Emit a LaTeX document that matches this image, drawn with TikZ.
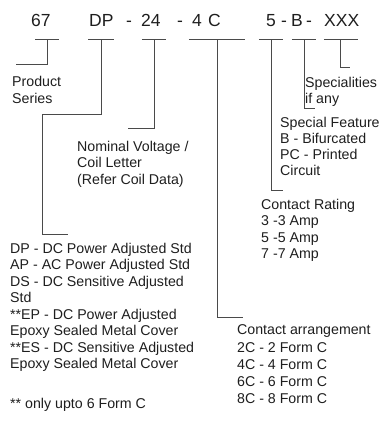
\documentclass[tikz,border=0pt]{standalone}
\usepackage{fontspec}
\setmainfont{Liberation Sans}
\usetikzlibrary{positioning}
\definecolor{ink}{HTML}{1E1E1E}
\definecolor{linegray}{HTML}{4A4A4A}
\tikzset{code/.style={anchor=base west, inner sep=0pt, font=\fontsize{17.5}{20}\selectfont, text=ink}, lab/.style={anchor=base west, inner sep=0pt, align=left, font=\fontsize{14.2}{16.5}\selectfont, text=ink}, uline/.style={inner sep=0pt, minimum height=0pt}, lead/.style={draw=linegray, line width=0.8pt}}

\begin{document}
\begin{tikzpicture}[x=1pt,y=-1pt]
\useasboundingbox (0,0) rectangle (385,423);
% part number
\node[code] (n67) at (31,27) {67}; \node[code] (nDP) at (89,27) {DP}; \node[code] (d1) at (126,27) {-};
\node[code] (n24) at (141,27) {24}; \node[code] (d2) at (177,27) {-}; \node[code] (n4) at (192,27) {4}; \node[code] (nC) at (208,27) {C};
\node[code] (n5) at (266,27) {5}; \node[code] (d3) at (281,27) {-}; \node[code] (nB) at (291,27) {B}; \node[code] (d4) at (306,27) {-}; \node[code] (nX) at (324,27) {XXX};
% underlines
\node[uline, minimum width=23pt] (u67) at (47,39) {}; \node[uline, minimum width=25pt] (uDP) at (101,39) {};
\node[uline, minimum width=24pt] (u24) at (154,39) {}; \node[uline, minimum width=56pt] (u4C) at (217,39) {};
\node[uline, minimum width=24pt] (u5) at (271,39) {}; \node[uline, minimum width=24pt] (uB) at (304,39) {}; \node[uline, minimum width=34pt] (uX) at (341,39) {};
% labels (base = last line)
\node[lab] (series) at (12,103) {Product\\Series};
\node[lab] (voltage) at (77,184) {Nominal Voltage /\\Coil Letter\\(Refer Coil Data)};
\node[lab] (types) at (10,368.5) {DP - DC Power Adjusted Std\\AP - AC Power Adjusted Std\\DS - DC Sensitive Adjusted\\Std\\**EP - DC Power Adjusted\\Epoxy Sealed Metal Cover\\**ES - DC Sensitive Adjusted\\Epoxy Sealed Metal Cover};
\node[lab] (note) at (10,408) {** only upto 6 Form C};
\node[lab, font=\fontsize{14.2}{16.8}\selectfont] (arrange) at (237,403) {Contact arrangement\\[1.5pt]2C - 2 Form C\\4C - 4 Form C\\6C - 6 Form C\\8C - 8 Form C};
\node[lab] (rating) at (261,258.5) {Contact Rating\\3 -3 Amp\\5 -5 Amp\\7 -7 Amp};
\node[lab, font=\fontsize{14.2}{16}\selectfont] (feature) at (280,175) {Special Feature\\B - Bifurcated\\PC - Printed\\Circuit};
\node[lab, font=\fontsize{14.2}{16}\selectfont] (special) at (305,103) {Specialities\\if any};
% leads
\coordinate (e67) at (16,64); \coordinate (kDP) at (42,114); \coordinate (eDP) at (68,234); \coordinate (e24) at (128,128);
\coordinate (e4C) at (243,317); \coordinate (e5) at (283,190); \coordinate (eB) at (315,108); \coordinate (eX) at (350,67);
\foreach \u in {u67,uDP,u24,u4C,u5,uB,uX} \draw[lead] (\u.west) -- (\u.east);
\draw[lead] (u67.center) |- (e67); \draw[lead] (uDP.center) |- (kDP) |- (eDP); \draw[lead] (u24.center) |- (e24);
\draw[lead] (u4C.center) |- (e4C); \draw[lead] (u5.center) |- (e5); \draw[lead] (uB.center) |- (eB); \draw[lead] (340,39) |- (eX);
\end{tikzpicture}
\end{document}
